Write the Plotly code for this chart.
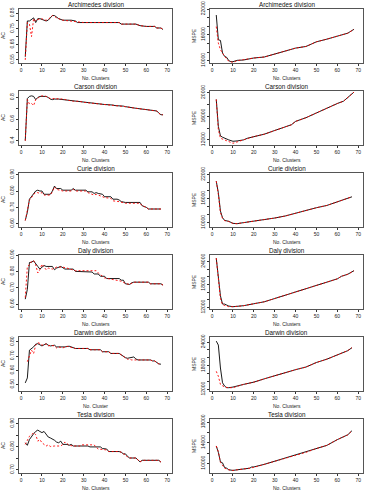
import plotly.graph_objects as go
from plotly.subplots import make_subplots

W, H = 382, 491

divisions = ["Archimedes", "Carson", "Curie", "Daly", "Darwin", "Tesla"]
x_labels_left = ["No. Clusters", "No. Clusters", "No. Clusters", "No. Clusters", "No. Cluster", "No. Clusters"]
x_labels_right = ["No. Clusters"] * 6
x_tick_vals = [0, 10, 20, 30, 40, 50, 60, 70]

# ---------------- AC panels (left column) ----------------
arch_ac_x_black = [2, 3, 4, 5, 6, 7, 8, 9, 10, 11, 12, 13, 14, 15, 16, 17, 18, 20, 24, 26, 27, 47, 48, 55, 57, 60, 64, 65, 67, 68]
arch_ac_y_black = [0.57, 0.80, 0.80, 0.81, 0.82, 0.79, 0.815, 0.815, 0.81, 0.805, 0.80, 0.805, 0.82, 0.835, 0.835, 0.825, 0.815, 0.805, 0.805, 0.80, 0.79, 0.79, 0.78, 0.78, 0.77, 0.765, 0.765, 0.755, 0.755, 0.745]
arch_ac_x_red = [2, 3, 4, 5, 6, 7, 8, 9, 10, 11, 12, 13, 14, 15, 16, 17, 20, 24, 26, 30, 47, 48, 55, 57, 60, 64, 65, 67, 68]
arch_ac_y_red = [0.55, 0.79, 0.78, 0.70, 0.815, 0.80, 0.81, 0.815, 0.815, 0.805, 0.805, 0.81, 0.825, 0.835, 0.83, 0.82, 0.805, 0.80, 0.795, 0.79, 0.79, 0.78, 0.78, 0.77, 0.765, 0.765, 0.755, 0.755, 0.745]

cars_ac_x_black = [2, 3, 4, 5, 6, 7, 8, 9, 10, 12, 13, 14, 15, 16, 18, 20, 22, 25, 28, 30, 35, 40, 44, 45, 49, 50, 55, 60, 61, 65, 66, 67, 68]
cars_ac_y_black = [0.40, 0.79, 0.81, 0.815, 0.81, 0.78, 0.80, 0.81, 0.81, 0.81, 0.80, 0.785, 0.78, 0.785, 0.785, 0.78, 0.775, 0.77, 0.765, 0.755, 0.745, 0.735, 0.73, 0.725, 0.72, 0.715, 0.70, 0.685, 0.68, 0.675, 0.655, 0.64, 0.64]
cars_ac_x_red = [2, 3, 4, 5, 6, 7, 8, 9, 10, 12, 13, 14, 16, 18, 20, 25, 28, 30, 35, 40, 44, 45, 49, 50, 55, 60, 61, 65, 66, 67, 68]
cars_ac_y_red = [0.40, 0.78, 0.74, 0.745, 0.725, 0.78, 0.79, 0.81, 0.815, 0.81, 0.80, 0.79, 0.79, 0.785, 0.785, 0.765, 0.765, 0.755, 0.745, 0.735, 0.73, 0.725, 0.72, 0.715, 0.70, 0.685, 0.68, 0.675, 0.655, 0.64, 0.64]

curie_ac_x_black = [2, 3, 4, 5, 6, 7, 8, 9, 10, 11, 14, 15, 16, 17, 19, 20, 24, 25, 26, 31, 32, 34, 35, 36, 37, 39, 40, 43, 44, 46, 47, 48, 50, 57, 58, 60, 61, 67]
curie_ac_y_black = [0.62, 0.67, 0.75, 0.765, 0.785, 0.80, 0.805, 0.80, 0.80, 0.78, 0.78, 0.80, 0.83, 0.815, 0.815, 0.805, 0.805, 0.815, 0.805, 0.805, 0.795, 0.795, 0.785, 0.79, 0.785, 0.78, 0.765, 0.765, 0.75, 0.75, 0.745, 0.735, 0.73, 0.73, 0.71, 0.70, 0.69, 0.69]
curie_ac_x_red = [2, 3, 4, 5, 6, 7, 8, 9, 10, 11, 14, 15, 16, 17, 20, 24, 25, 26, 31, 32, 34, 35, 36, 37, 40, 43, 44, 47, 48, 50, 57, 58, 60, 61, 67]
curie_ac_y_red = [0.62, 0.68, 0.745, 0.76, 0.78, 0.79, 0.79, 0.785, 0.79, 0.775, 0.775, 0.795, 0.825, 0.81, 0.80, 0.80, 0.81, 0.80, 0.80, 0.79, 0.78, 0.775, 0.78, 0.775, 0.76, 0.755, 0.74, 0.735, 0.73, 0.725, 0.725, 0.71, 0.70, 0.69, 0.69]

daly_ac_x_black = [2, 3, 4, 5, 6, 7, 8, 9, 10, 11, 12, 15, 16, 17, 19, 20, 21, 25, 26, 34, 35, 37, 38, 40, 41, 47, 48, 49, 50, 52, 53, 54, 61, 62, 67, 68]
daly_ac_y_black = [0.63, 0.69, 0.854, 0.856, 0.864, 0.85, 0.83, 0.814, 0.826, 0.836, 0.83, 0.83, 0.81, 0.82, 0.83, 0.82, 0.814, 0.814, 0.80, 0.796, 0.784, 0.784, 0.77, 0.77, 0.756, 0.756, 0.746, 0.746, 0.724, 0.72, 0.73, 0.734, 0.734, 0.724, 0.724, 0.716]
daly_ac_x_red = [2, 3, 4, 5, 6, 7, 8, 9, 10, 11, 12, 13, 15, 17, 20, 22, 25, 26, 36, 37, 40, 45, 48, 50, 52, 54, 61, 62, 67, 68]
daly_ac_y_red = [0.64, 0.83, 0.84, 0.86, 0.866, 0.84, 0.79, 0.81, 0.844, 0.826, 0.81, 0.82, 0.814, 0.826, 0.826, 0.82, 0.81, 0.804, 0.804, 0.79, 0.76, 0.75, 0.74, 0.726, 0.72, 0.734, 0.734, 0.724, 0.724, 0.716]

darw_ac_x_black = [2, 3, 4, 5, 6, 7, 8, 9, 10, 11, 12, 13, 14, 16, 17, 21, 22, 23, 24, 25, 26, 32, 33, 38, 39, 42, 43, 47, 48, 50, 51, 52, 53, 54, 55, 56, 62, 63, 64, 65, 66, 67]
darw_ac_y_black = [0.511, 0.546, 0.742, 0.754, 0.765, 0.784, 0.788, 0.78, 0.772, 0.78, 0.788, 0.777, 0.772, 0.777, 0.765, 0.765, 0.77, 0.77, 0.765, 0.758, 0.754, 0.754, 0.745, 0.745, 0.731, 0.731, 0.719, 0.719, 0.708, 0.689, 0.685, 0.689, 0.694, 0.694, 0.68, 0.673, 0.673, 0.666, 0.666, 0.655, 0.645, 0.643]
darw_ac_x_red = [3, 4, 5, 6, 7, 8, 9, 10, 11, 12, 13, 14, 16, 17, 18, 20, 22, 25, 26, 32, 33, 38, 39, 42, 43, 47, 48, 50, 51, 52, 53, 55, 56, 62, 63, 64, 65, 66, 67]
darw_ac_y_red = [0.661, 0.708, 0.742, 0.719, 0.777, 0.795, 0.79, 0.777, 0.78, 0.786, 0.772, 0.777, 0.772, 0.758, 0.765, 0.758, 0.77, 0.754, 0.754, 0.754, 0.745, 0.745, 0.731, 0.731, 0.719, 0.719, 0.708, 0.685, 0.678, 0.678, 0.673, 0.673, 0.673, 0.673, 0.666, 0.666, 0.655, 0.645, 0.643]

tesla_ac_x_black = [2, 3, 4, 5, 6, 7, 8, 9, 10, 11, 12, 13, 14, 15, 16, 17, 18, 19, 20, 22, 23, 24, 25, 32, 33, 38, 39, 41, 42, 47, 48, 49, 50, 51, 52, 55, 56, 57, 58, 66, 67]
tesla_ac_y_black = [0.817, 0.806, 0.831, 0.845, 0.856, 0.866, 0.872, 0.866, 0.861, 0.866, 0.852, 0.842, 0.838, 0.834, 0.828, 0.82, 0.817, 0.824, 0.81, 0.81, 0.806, 0.81, 0.803, 0.803, 0.799, 0.799, 0.792, 0.79, 0.779, 0.779, 0.776, 0.769, 0.769, 0.758, 0.751, 0.751, 0.744, 0.734, 0.741, 0.741, 0.733]
tesla_ac_x_red = [2, 3, 4, 5, 6, 7, 8, 9, 10, 11, 12, 13, 14, 16, 19, 20, 21, 22, 23, 25, 28, 29, 35, 36, 37, 41, 42, 47, 48, 49, 50, 51, 52, 55, 56, 57, 58, 66, 67]
tesla_ac_y_red = [0.81, 0.831, 0.845, 0.852, 0.861, 0.852, 0.824, 0.831, 0.817, 0.81, 0.803, 0.808, 0.801, 0.803, 0.803, 0.81, 0.82, 0.814, 0.806, 0.803, 0.803, 0.808, 0.808, 0.797, 0.79, 0.786, 0.779, 0.779, 0.776, 0.769, 0.765, 0.755, 0.751, 0.751, 0.744, 0.734, 0.741, 0.741, 0.733]

# ---------------- MSPE panels (right column) ----------------
arch_ms_x_black = [2, 3, 4, 5, 6, 7, 8, 9, 10, 12, 15, 18, 20, 25, 30, 35, 40, 45, 48, 50, 55, 60, 65, 68]
arch_ms_y_black = [20600, 14850, 14700, 11770, 11000, 10770, 10000, 9770, 9770, 10080, 10150, 10460, 10620, 10850, 11540, 12150, 12920, 13300, 13850, 14380, 15000, 15770, 16380, 17300]
arch_ms_x_red = [2, 3, 4, 5, 6, 8, 10, 12, 15, 18, 20, 25, 30, 35, 40, 45, 48, 50, 55, 60, 65, 68]
arch_ms_y_red = [17920, 14080, 12540, 11600, 11000, 9850, 9620, 10000, 10150, 10460, 10620, 10850, 11540, 12150, 12920, 13300, 13850, 14380, 15000, 15770, 16380, 17300]

cars_ms_x_black = [2, 3, 4, 5, 8, 10, 12, 15, 17, 20, 25, 30, 35, 38, 40, 45, 50, 55, 60, 63, 65, 68]
cars_ms_y_black = [18860, 14290, 12690, 12460, 12000, 11770, 11830, 12000, 12290, 12570, 12970, 13600, 14290, 14570, 15140, 15770, 16570, 17430, 18170, 18570, 19140, 20110]
cars_ms_x_red = [2, 3, 4, 6, 8, 10, 12, 15, 17, 20, 25, 30, 35, 38, 40, 45, 50, 55, 60, 63, 65, 68]
cars_ms_y_red = [18860, 13710, 12290, 12000, 11710, 11430, 11660, 12000, 12290, 12570, 12970, 13600, 14290, 14570, 15140, 15770, 16570, 17430, 18170, 18570, 19140, 20110]

curie_ms_x_black = [2, 3, 4, 5, 6, 8, 10, 12, 15, 20, 25, 30, 35, 40, 45, 50, 55, 60, 65, 67]
curie_ms_y_black = [20350, 17450, 12900, 11240, 10580, 10330, 9830, 9750, 10000, 10330, 10660, 11160, 11660, 12400, 13060, 13730, 14300, 15130, 15960, 16460]
curie_ms_x_red = [2, 3, 4, 5, 6, 8, 10, 12, 15, 20, 25, 30, 35, 40, 45, 50, 55, 60, 65, 67]
curie_ms_y_red = [20350, 17040, 12500, 11100, 10500, 10300, 9800, 9750, 10000, 10330, 10660, 11160, 11660, 12400, 13060, 13730, 14300, 15130, 15960, 16460]

daly_ms_x_black = [2, 3, 4, 5, 6, 7, 8, 10, 15, 20, 25, 30, 35, 40, 45, 50, 55, 60, 62, 65, 68]
daly_ms_y_black = [24860, 20140, 15000, 12860, 12860, 12600, 12340, 12170, 12430, 12940, 13460, 14310, 15170, 16030, 16710, 17570, 18430, 19460, 20140, 20660, 21600]
daly_ms_x_red = [2, 3, 4, 5, 8, 10, 15, 20, 25, 30, 35, 40, 45, 50, 55, 60, 62, 65, 68]
daly_ms_y_red = [24860, 18430, 14310, 12690, 12170, 12170, 12430, 12940, 13460, 14310, 15170, 16030, 16710, 17570, 18430, 19460, 20140, 20660, 21600]

darw_ms_x_black = [2, 3, 4, 5, 6, 7, 8, 10, 15, 20, 25, 30, 35, 40, 45, 50, 55, 60, 65, 67]
darw_ms_y_black = [24250, 23250, 17420, 13670, 12830, 12420, 12420, 12580, 13250, 13830, 14670, 15500, 16170, 17000, 17670, 18830, 19670, 20750, 21830, 22580]
darw_ms_x_red = [2, 3, 4, 5, 6, 8, 10, 15, 20, 25, 30, 35, 40, 45, 50, 55, 60, 65, 67]
darw_ms_y_red = [16580, 15330, 13250, 12830, 12580, 12420, 12420, 13250, 13830, 14670, 15500, 16170, 17000, 17670, 18830, 19670, 20750, 21830, 22580]

tesla_ms_x_black = [2, 3, 4, 5, 6, 7, 8, 10, 12, 15, 18, 19, 20, 25, 30, 35, 40, 45, 50, 55, 60, 65, 67]
tesla_ms_y_black = [13380, 12150, 10310, 10120, 9200, 9080, 8770, 8650, 8770, 8890, 9080, 9320, 9320, 9820, 10430, 10920, 11540, 12150, 12890, 13500, 14610, 15540, 16330]
tesla_ms_x_red = [2, 3, 4, 5, 6, 8, 10, 12, 15, 18, 20, 25, 30, 35, 40, 45, 50, 55, 60, 65, 67]
tesla_ms_y_red = [13380, 12270, 10190, 9700, 9080, 8770, 8650, 8770, 8890, 9080, 9250, 9820, 10430, 10920, 11540, 12150, 12890, 13500, 14610, 15540, 16330]

# y-axis ticks (all tick marks) and which get labels
ac_ticks = [
    [0.55, 0.60, 0.65, 0.70, 0.75, 0.80, 0.85],
    [0.4, 0.5, 0.6, 0.7, 0.8],
    [0.60, 0.70, 0.80, 0.90],
    [0.60, 0.70, 0.80, 0.90],
    [0.50, 0.60, 0.70, 0.80],
    [0.70, 0.75, 0.80, 0.85, 0.90],
]
ac_labels = [
    ["0.55", "", "0.65", "", "0.75", "", "0.85"],
    ["0.4", "", "0.6", "", "0.8"],
    ["0.60", "0.70", "0.80", "0.90"],
    ["0.60", "0.70", "0.80", "0.90"],
    ["0.50", "0.60", "0.70", "0.80"],
    ["0.70", "", "0.80", "", "0.90"],
]
ms_ticks = [
    [10000, 12000, 14000, 16000, 18000, 20000, 22000],
    [12000, 14000, 16000, 18000, 20000],
    [10000, 12000, 14000, 16000, 18000, 20000, 22000],
    [12000, 14000, 16000, 18000, 20000, 22000, 24000],
    [12000, 14000, 16000, 18000, 20000, 22000, 24000],
    [10000, 12000, 14000, 16000, 18000],
]
ms_labels = [
    ["10000", "", "", "16000", "", "", "22000"],
    ["12000", "", "16000", "", "20000"],
    ["10000", "", "", "16000", "", "", "22000"],
    ["12000", "", "", "18000", "", "", "24000"],
    ["12000", "", "", "18000", "", "", "24000"],
    ["10000", "", "14000", "", "18000"],
]
ac_ranges = [[0.53, 0.877], [0.36, 0.86], [0.58, 0.91], [0.57, 0.90], [0.454, 0.835], [0.686, 0.92]]
ms_ranges = [[9460, 22000], [11140, 20290], [8920, 22400], [11570, 25700], [11580, 25300], [8150, 18600]]

ac_series = [
    (arch_ac_x_black, arch_ac_y_black, arch_ac_x_red, arch_ac_y_red),
    (cars_ac_x_black, cars_ac_y_black, cars_ac_x_red, cars_ac_y_red),
    (curie_ac_x_black, curie_ac_y_black, curie_ac_x_red, curie_ac_y_red),
    (daly_ac_x_black, daly_ac_y_black, daly_ac_x_red, daly_ac_y_red),
    (darw_ac_x_black, darw_ac_y_black, darw_ac_x_red, darw_ac_y_red),
    (tesla_ac_x_black, tesla_ac_y_black, tesla_ac_x_red, tesla_ac_y_red),
]
ms_series = [
    (arch_ms_x_black, arch_ms_y_black, arch_ms_x_red, arch_ms_y_red),
    (cars_ms_x_black, cars_ms_y_black, cars_ms_x_red, cars_ms_y_red),
    (curie_ms_x_black, curie_ms_y_black, curie_ms_x_red, curie_ms_y_red),
    (daly_ms_x_black, daly_ms_y_black, daly_ms_x_red, daly_ms_y_red),
    (darw_ms_x_black, darw_ms_y_black, darw_ms_x_red, darw_ms_y_red),
    (tesla_ms_x_black, tesla_ms_y_black, tesla_ms_x_red, tesla_ms_y_red),
]

FONT = "Liberation Sans, Arial, Helvetica, sans-serif"
fig = make_subplots(rows=6, cols=2)

BOX_L = [19, 210]
BOX_R = [172, 363]
ROW_TOP0, ROW_STEP, BOX_H = 9, 82, 54

def px(xp):
    return xp / W

def py(yp):
    return 1 - yp / H

annotations = []
for r in range(6):
    top = ROW_TOP0 + ROW_STEP * r
    bot = top + BOX_H
    for c in range(2):
        series = ac_series[r] if c == 0 else ms_series[r]
        xb, yb, xr, yr = series
        fig.add_trace(go.Scatter(x=xb, y=yb, mode="lines", line=dict(color="#000000", width=0.9),
                                 showlegend=False, hoverinfo="skip"), row=r + 1, col=c + 1)
        fig.add_trace(go.Scatter(x=xr, y=yr, mode="lines", line=dict(color="#ff0000", width=0.9, dash="2px,2px"),
                                 showlegend=False, hoverinfo="skip"), row=r + 1, col=c + 1)
        idx = r * 2 + c + 1
        xa = "xaxis" if idx == 1 else f"xaxis{idx}"
        ya = "yaxis" if idx == 1 else f"yaxis{idx}"
        fig.layout[xa].update(
            domain=[px(BOX_L[c]), px(BOX_R[c])], range=[-1.0, 72.3], automargin=False,
            tickvals=x_tick_vals, ticktext=[str(v) for v in x_tick_vals],
            ticks="outside", ticklen=2, tickwidth=0.8, tickcolor="#333",
            showline=True, linecolor="#555", linewidth=1.2, mirror=True,
            showgrid=False, zeroline=False,
            tickfont=dict(size=5, family=FONT, color="#222"),
        )
        fig.layout[ya].update(
            domain=[py(bot), py(top)], automargin=False,
            range=(ac_ranges[r] if c == 0 else ms_ranges[r]),
            tickvals=(ac_ticks[r] if c == 0 else ms_ticks[r]),
            ticktext=(ac_labels[r] if c == 0 else ms_labels[r]),
            tickangle=-90,
            ticks="outside", ticklen=2, tickwidth=0.8, tickcolor="#333",
            showline=True, linecolor="#555", linewidth=1.2, mirror=True,
            showgrid=False, zeroline=False,
            tickfont=dict(size=5, family=FONT, color="#222"),
        )
        cx = (BOX_L[c] + BOX_R[c]) / 2
        annotations.append(dict(x=px(cx), y=py(top - 4.5), xref="paper", yref="paper",
                                text=f"{divisions[r]} division", showarrow=False,
                                font=dict(size=6.3, family=FONT, color="#111"),
                                xanchor="center", yanchor="middle"))
        annotations.append(dict(x=px(cx), y=py(bot + 15), xref="paper", yref="paper",
                                text=(x_labels_left[r] if c == 0 else x_labels_right[r]), showarrow=False,
                                font=dict(size=5, family=FONT, color="#222"),
                                xanchor="center", yanchor="middle"))
        annotations.append(dict(x=px(3 if c == 0 else 194), y=py((top + bot) / 2), xref="paper", yref="paper",
                                text=("AC" if c == 0 else "MSPE"), showarrow=False, textangle=-90,
                                font=dict(size=5, family=FONT, color="#222"),
                                xanchor="center", yanchor="middle"))

fig.update_layout(width=W, height=H, margin=dict(l=0, r=0, t=0, b=0, autoexpand=False), autosize=False,
                  paper_bgcolor="white", plot_bgcolor="white", annotations=annotations,
                  font=dict(family=FONT))

post = (
    "document.documentElement.style.margin='0';document.documentElement.style.padding='0';"
    "document.documentElement.style.overflow='hidden';"
    "document.body.style.margin='0';document.body.style.padding='0';document.body.style.overflow='hidden';"
    "var gd=document.getElementById('{plot_id}');gd.style.display='block';"
    "if(gd.parentElement){gd.parentElement.style.display='block';gd.parentElement.style.height='491px';"
    "gd.parentElement.style.overflow='hidden';}"
)
fig.write_html("out.html", config={"displayModeBar": False, "responsive": False}, post_script=post)
